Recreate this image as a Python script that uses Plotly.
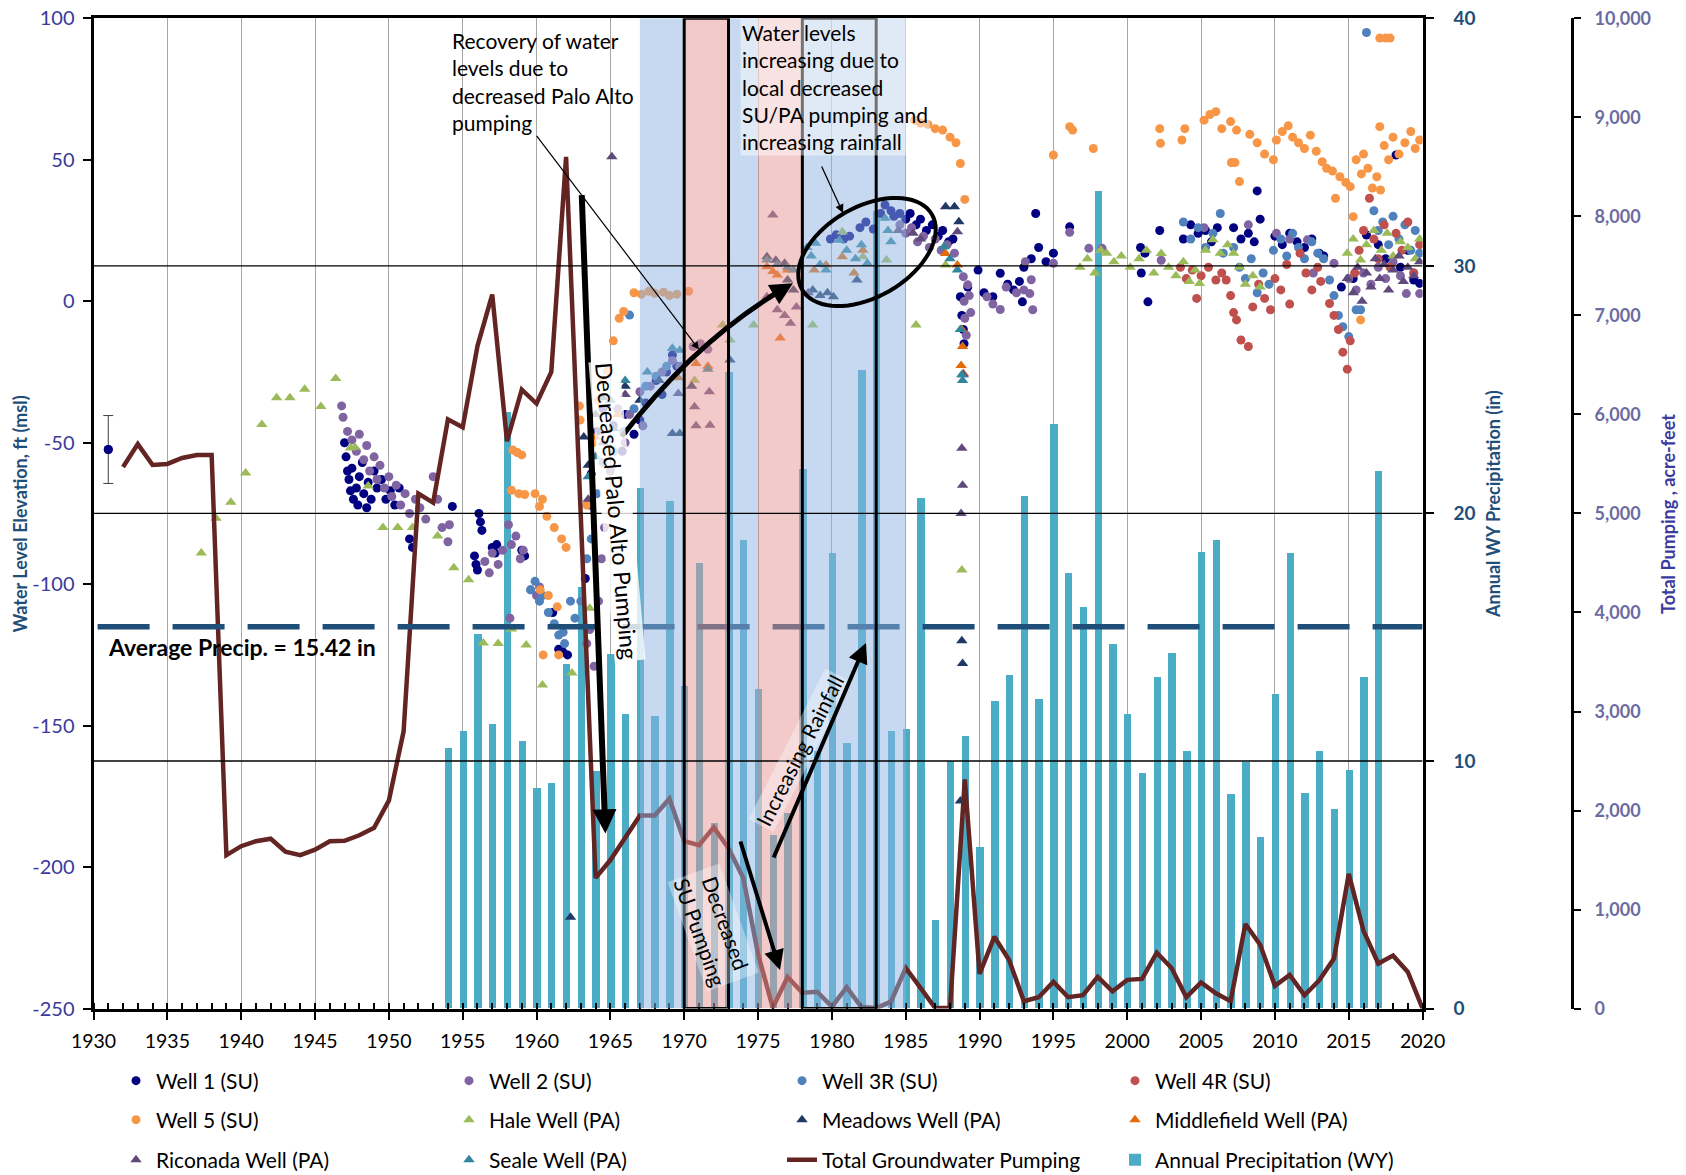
import numpy as np
import plotly.graph_objects as go

# ---------------- DATA ----------------
precip_years = list(range(1954, 2018))
precip_in = [10.5, 11.2, 15.1, 11.5, 24.1, 10.8, 8.9, 9.1, 13.9, 17.0,
             9.6, 14.3, 11.9, 21.0, 11.8, 20.5, 13.0, 18.0, 7.5, 25.7,
             18.9, 12.9, 7.0, 7.9, 21.8, 10.4, 18.4, 10.7, 25.8, 32.2,
             11.2, 11.3, 20.6, 3.55, 10.0, 11.0, 6.5, 12.4, 13.45, 20.7,
             12.5, 23.6, 17.6, 16.2, 33.0, 14.7, 11.9, 9.5, 13.4, 14.35,
             10.4, 18.45, 18.9, 8.66, 9.96, 6.9, 12.7, 18.4, 8.7, 10.4,
             8.06, 9.63, 13.4, 21.7]
AVG_PRECIP = 15.42

pump_years = list(range(1932, 2021))
pump_af = [5470, 5700, 5490, 5500, 5560, 5590, 5590, 1550, 1640, 1690,
           1715, 1585, 1550, 1605, 1690, 1695, 1750, 1825, 2100, 2800,
           5200, 5110, 5950, 5870, 6690, 7210, 5730, 6250, 6110, 6430,
           8600, 4950, 1320, 1500, 1730, 1950, 1950, 2120, 1690, 1650,
           1830, 1620, 1320, 550, 10, 320, 160, 170, 20, 215,
           15, 5, 70, 410, 210, 5, 5, 2315, 350, 725,
           490, 75, 115, 270, 115, 135, 320, 175, 290, 300,
           565, 410, 115, 265, 155, 75, 855, 645, 230, 340,
           135, 285, 505, 1360, 785, 455, 535, 370, 0]

w1_year = [1931.0, 1947.0, 1947.1, 1947.2, 1947.3, 1947.4, 1947.5, 1947.6, 1947.8, 1947.9, 1948.0, 1948.2, 1948.3,
           1948.5, 1948.6, 1948.8, 1949.0, 1949.2, 1949.5, 1949.8, 1950.1, 1950.4, 1950.7, 1951.4, 1951.6,
           1954.3, 1956.1, 1956.2, 1956.3, 1955.8, 1955.9, 1956.0, 1957.0, 1957.2, 1957.3, 1959.0, 1959.2,
           1961.1, 1961.5, 1961.8, 1962.1, 1963.3, 1963.6, 1963.7, 1964.1, 1964.5, 1965.2, 1965.8, 1966.6,
           1967.4, 1968.1, 1968.8, 1969.2, 1966.0, 1967.0, 1968.5, 1969.5, 1979.9, 1980.3, 1980.8, 1981.2,
           1981.9, 1982.3, 1982.8, 1983.3, 1983.6, 1984.0, 1984.2, 1984.6, 1985.0, 1985.3, 1985.7, 1986.0,
           1986.4, 1986.8, 1987.2, 1987.5, 1987.9, 1988.2, 1988.7, 1988.8, 1988.9, 1988.95, 1989.9, 1989.2,
           1990.3, 1990.9, 1991.4, 1991.9, 1992.3, 1992.7, 1992.9, 1993.0, 1993.5, 1994.0, 1994.5, 1995.0,
           1993.8, 1996.1, 2000.9, 2001.2, 2000.95, 2001.4, 2002.2, 2003.8, 2004.3, 2004.8, 2005.3, 2005.7,
           2006.1, 2007.2, 2007.7, 2008.2, 2008.6, 2008.8, 2009.0, 2010.0, 2010.5, 2011.0, 2011.5, 2012.0,
           2012.5, 2013.0, 2013.3, 2014.5, 2015.3, 2016.2, 2017.0, 2017.5, 2018.2, 2018.5, 2019.0, 2019.4, 2019.8]
w1_level = [-52.4, -50, -55, -60, -63, -67, -59, -70, -66, -72, -62, -57, -68,
            -73, -64, -70, -60, -66, -63, -70, -67, -72, -66, -84, -87,
            -72.5, -75, -78, -81, -90, -93, -95, -87, -89, -86, -88, -90,
            -110, -123, -124, -125, -98, -72, -61, -46, -38, -44, -53, -47,
            -36, -28, -25, -19, -40, -42, -33, -23, 22, 23.5, 22, 23,
            26, 28, 25.5, 31, 34, 32, 30, 31, 29, 31, 27, 29,
            25, 27, 23, 25, 21, 22, 1.6, -5, -10, -15, 11, 5,
            3, 1.6, 9.9, 6, 4, 7, -0.2, 12, 15, 19, 14, 17,
            31, 26.3, 19, 17, 10, -0.2, 25, 22, 27, 24, 25, 21,
            26, 26, 22, 24, 21, 39, 29, 23, 20, 24, 21, 19,
            22, 17, 16, 5, 8, 23.4, 20, 15, 51.7, 12, 18, 7.5, 6.3]
w1_err = 12

w2_year = [1946.8, 1946.9, 1947.2, 1947.5, 1947.8, 1948.0, 1948.3, 1948.5, 1948.7, 1949.0, 1949.2, 1949.4,
           1949.7, 1950.0, 1950.2, 1950.5, 1950.8, 1951.1, 1951.4, 1951.8, 1952.1, 1952.5, 1953.0, 1953.3,
           1953.6, 1954.0, 1954.1, 1956.5, 1956.8, 1957.0, 1957.4, 1957.7, 1958.1, 1958.3, 1958.6, 1958.9,
           1959.1, 1958.2, 1959.6, 1960.0, 1960.2, 1963.4, 1963.6, 1963.9, 1964.2, 1964.4, 1964.6, 1965.5,
           1966.3, 1967.0, 1967.7, 1968.5, 1969.2, 1969.7, 1970.6, 1971.1, 1971.6, 1965.0, 1966.0, 1967.2,
           1984.6, 1985.0, 1985.4, 1985.8, 1986.2, 1986.6, 1987.0, 1987.4, 1987.8, 1988.3, 1988.9, 1988.95,
           1989.0, 1989.1, 1989.2, 1989.3, 1989.4, 1990.5, 1990.9, 1991.4, 1991.8, 1992.5, 1993.0, 1993.4,
           1993.1, 1993.5, 1993.6, 1995.0, 1996.1, 1997.4, 1998.3, 2002.3, 2005.2, 2008.2, 2010.1, 2011.0,
           2012.2, 2012.6, 2014.0, 2015.0, 2015.5, 2016.0, 2016.5, 2017.0, 2017.5, 2018.0, 2018.5, 2018.9,
           2019.4, 2019.8]
w2_level = [-37, -41, -46, -49, -53, -47, -56, -51, -60, -55, -63, -58,
            -66, -62, -69, -65, -72, -68, -75, -70, -73, -77, -62, -70,
            -80, -85, -79, -92, -96, -89, -93, -88, -79, -86, -83, -91,
            -88, -112, -102, -104, -101, -121, -116, -129, -106, -91, -80, -38,
            -40, -32, -30, -25, -21, -23, -16, -15, -17, -60, -50, -44,
            27, 24, 26, 21, 23, 19, 22, 18, 20, 17, 8.7, 0,
            -6, -12, 5.8, 2, -4, 1.6, -1, -2.9, 5, 3, 4, 2.7,
            14, 7.6, -3, 13.4, 24.4, 18.7, 18.7, 14.5, 26, 27, 24, 22,
            21.7, 10, 13.4, 8, 4, 10, 6, 12, 8, 14, 9, 2.7,
            10, 2.7]

w3_year = [1959.6, 1959.9, 1960.2, 1960.4, 1960.8, 1961.2, 1961.5, 1961.8, 1961.9, 1962.3, 1962.6, 1963.0,
           1963.4, 1963.7, 1964.1, 1964.5, 1965.2, 1965.9, 1966.3, 1966.6, 1967.4, 1968.1, 1968.8,
           2003.8, 2004.3, 2004.8, 2005.3, 2005.8, 2006.3, 2006.5, 2007.2, 2007.6, 2008.0, 2008.4, 2008.8,
           2009.2, 2009.6, 2009.9, 2010.4, 2010.8, 2011.2, 2011.6, 2012.0, 2012.5, 2012.9, 2013.3, 2013.7,
           2014.0, 2014.3, 2014.6, 2015.0, 2015.5, 2015.8, 2016.2, 2016.7, 2017.0, 2017.3, 2017.7, 2018.0,
           2018.4, 2018.8, 2019.2, 2019.5, 2019.8]
w3_level = [-102, -99, -106, -104, -110, -114, -118, -117, -121, -106, -112, -106,
            -91, -84, -68, -57, -53, -46, -4.9, -38, -30, -26.5, -23,
            28, 22, 26, 19, 24, 31, 17, 19, 12, 8, 15, 3,
            10, 6, 18, 22, 16, 24, 19, 15, 21, 17, 15, 7.5,
            2, -5, -9, -12.5, -3, -3, 95, 32, 25, 28, 20, 30,
            22, 27, 18, 25, 17]

w4_year = [2003.6, 2004.0, 2004.4, 2004.7, 2005.0, 2005.5, 2006.0, 2006.4, 2006.7, 2007.0, 2007.2, 2007.4,
           2007.7, 2008.2, 2008.5, 2008.9, 2009.3, 2009.7, 2010.0, 2010.4, 2010.8, 2011.0, 2011.7, 2012.1,
           2012.5, 2012.9, 2013.1, 2013.7, 2014.0, 2014.3, 2014.6, 2014.9, 2015.1, 2015.4, 2015.7, 2016.0,
           2016.4, 2016.7, 2017.0, 2017.4, 2017.8, 2018.2, 2018.6, 2019.0, 2019.4, 2019.8]
w4_level = [12, 8, 11, 1, 9, 12, 7.5, 10, 7.5, 2, -4, -6.6,
            -13.7, -16, -2, 6, 1, -3, 8, 4, 13, -1, 17, 10,
            4, 12, 7, -0.8, -5, -10, -18, -24, -14, 10, 18, 25,
            36.4, 22, 15, 27, 12, 24, 18, 28, 10, 20]

w5_year = [1958.4, 1958.7, 1959.0, 1958.3, 1958.8, 1959.2, 1959.9, 1960.2, 1960.4, 1960.25, 1960.8, 1961.4,
           1960.45, 1961.5, 1960.7, 1961.2, 1961.7, 1962.0, 1962.9, 1962.95, 1963.4, 1963.8, 1964.2, 1964.5,
           1964.8, 1965.2, 1965.6, 1965.9, 1966.6, 1967.1, 1967.6, 1968.0, 1968.6, 1969.0, 1969.5, 1970.3,
           1985.6, 1986.0, 1986.5, 1987.0, 1987.5, 1988.0, 1988.4, 1988.7, 1989.0,
           1995.0, 1996.1, 1996.3, 1997.7, 2002.2, 2002.25, 2003.9, 2003.7, 2005.2, 2005.6, 2006.0, 2006.4,
           2007.0, 2007.4, 2007.05, 2007.3, 2007.6, 2008.3, 2008.8, 2009.3, 2009.9, 2010.1, 2010.5, 2010.9,
           2011.2, 2011.6, 2012.0, 2012.4, 2012.8, 2013.2, 2013.5, 2013.9, 2014.1, 2014.4, 2014.8, 2015.1,
           2015.3, 2015.8, 2015.5, 2015.85, 2016.0, 2016.3, 2016.6, 2016.9, 2017.1, 2017.15, 2017.1, 2017.5,
           2017.8, 2017.4, 2017.7, 2018.0, 2018.4, 2018.8, 2019.2, 2019.5, 2019.8]
w5_level = [-52.6, -53.5, -54.3, -66.8, -68, -68.3, -68, -72.5, -70, -102, -104, -108,
            -125, -125, -76, -80, -84, -87, -37, -42, -72, -50, -35, -28,
            -24.6, -14, -6, -3.6, 3, 2.5, 3.5, 2.8, 3.2, 2, 2.5, 3.5,
            64, 63, 62.5, 61, 60.5, 58, 56, 48.7, 36,
            51.7, 61.7, 60.5, 54, 61, 55.8, 61, 57, 64, 66, 67, 61,
            63.5, 60.5, 49, 49, 42.3, 59, 56, 52, 50, 57, 60, 62,
            58, 56, 54, 58.7, 53, 49.3, 47, 46, 36.4, 44, 42, 40.5,
            29.9, -6.6, 50, 45, 52, 47, 40, 44, 61.7, 39.3, 93, 93,
            93, 55, 50, 58, 52, 56, 60, 54, 57]

hale_year = [1937.3, 1938.3, 1939.3, 1940.3, 1941.4, 1942.4, 1943.3, 1944.3, 1945.4, 1946.4, 1947.4, 1947.7,
             1948.6, 1949.6, 1950.6, 1951.6, 1953.3, 1954.4, 1955.4, 1956.4, 1957.4, 1958.3, 1959.3, 1960.4,
             1962.4, 1963.6, 1970.7, 1972.6, 1973.1, 1974.7, 1978.7, 1980.7, 1982.1, 1983.7, 1985.7, 1987.7,
             1988.8, 1996.8, 1997.3, 1997.8, 1998.2, 1998.6, 1999.1, 1999.6, 2000.2, 2000.8, 2001.3, 2001.8,
             2002.3, 2002.8, 2003.3, 2003.8, 2004.2, 2004.6, 2004.9, 2005.3, 2005.8, 2006.3, 2006.8, 2007.2,
             2007.6, 2008.0, 2008.5, 2009.0, 2014.9, 2015.3, 2015.8, 2016.2, 2016.7, 2017.2, 2017.6, 2018.0,
             2018.5, 2019.0, 2019.5, 2019.8]
hale_level = [-89, -76.7, -71, -60.7, -43.6, -34.1, -34.1, -31.1, -37.2, -27.3, -51.9, -51.6,
              -65.3, -80, -80, -80, -83, -94.2, -98.4, -120.8, -121, -115.8, -121.5, -135.6,
              -131.4, -108.5, -27.9, -8.4, -13.7, -8.4, -8.4, 24.6, 15.7, 14.6, -8.4, 12.8,
              -95, 12, 15, 10, 18, 17, 14, 16, 12, 15, 18, 10,
              16.9, 12, 9, 14, 7, 11, 6.3, 18, 21.7, 17, 20, 17,
              12, 6, 9, 5, 17, 22, 14.6, 20, 25, 18, 24, 16,
              21, 19, 15, 22]

meadows_year = [1962.3, 1963.2, 1963.5, 1964.0, 1964.5, 1965.2, 1966.0, 1967.0, 1968.3, 1969.2, 1969.7, 1970.5,
                1973.1, 1975.6, 1976.2, 1976.8, 1977.0, 1977.4, 1978.7, 1979.2, 1979.7, 1980.1, 1981.7, 1987.7,
                1988.3, 1988.6, 1988.8, 1988.85, 1988.7]
meadows_level = [-217.7, -48, -58, -40, -34, -45, -30, -35, -28, -46.7, -46.7, -30,
                 -20.8, 15.7, 14.5, 13.4, 7.5, 4, 4, 2, 3, 1.6, 7.5, 33.4,
                 33.4, 28.1, -120, -128, -176.6]

middle_year = [1964.0, 1965.5, 1969.6, 1970.8, 1971.6, 1975.6, 1976.0, 1976.3, 1976.5, 1977.0, 1978.8, 1979.6,
               1980.7, 1981.5, 1982.1, 1987.7, 1988.5, 1988.8, 1988.85, 1988.75, 1988.9]
middle_level = [-48, -40, -27, -22, -23, 12.2, 10.5, 9.3, -13, 11, 11, 12.8,
                15.7, 10, 18, 16.9, 12.8, -10, -16, -22.7, -25.5]

ricon_year = [1963.5, 1964.5, 1965.1, 1966.0, 1969.6, 1970.7, 1970.8, 1971.7, 1971.75, 1975.6, 1976.0, 1976.3,
              1976.8, 1977.2, 1977.6, 1978.4, 1984.5, 1985.5, 1986.0, 1988.5, 1988.8, 1988.85, 1988.75, 1988.9,
              2014.9, 2015.3, 2015.6, 2015.9, 2016.2, 2016.5, 2016.8, 2017.1, 2017.4, 2017.7, 2018.0, 2018.4,
              2018.7, 2019.0, 2019.4, 2019.8]
ricon_level = [-70, -50, 51.1, -33, -32.6, -37.3, -44, -32, -43.8, 1.6, 30.5, -3,
               -5, -7.8, -2, 3, 25, 24, 22, 24.6, -52, -65, -75, -26,
               8, 3, 12, 0, 10, 5, 15, 8, 13, 4, 11, 16,
               7, 12, 9, 14]

seale_year = [1963.5, 1964.0, 1965.0, 1966.0, 1967.5, 1969.2, 1969.7, 1971.6, 1975.6, 1976.3, 1977.0, 1977.4,
              1978.3, 1978.6, 1978.9, 1979.2, 1979.6, 1980.5, 1981.0, 1981.6, 1982.0, 1982.4, 1983.6, 1983.8,
              1984.0, 1987.6, 1988.0, 1988.5, 1988.7, 1988.8, 1988.85]
seale_level = [-62, -55, -35, -28, -25, -16.6, -17.3, -24, 14.6, 13, 12, 11,
               19, 16, 20.5, 13, 11, 21.6, 18, 15, 20, 13.4, 29.3, 25,
               21, 19.3, 15, 11, -10, -26, -28]

level_ticks = list(range(-250, 101, 50))

# ---------------- GEOMETRY / HELPERS ----------------
W, H = 1686, 1175
PL, PR, PT, PB = 93.5, 1422.6, 18.3, 1008.6
XMIN, XMAX = 1930, 2020
LMIN, LMAX = -250, 100
PRMAX = 40
QMAX = 10000
FONT = "Lato"


def yr(px):
    return XMIN + (px - PL) / (PR - PL) * (XMAX - XMIN)


def lv(py):
    return LMAX - (py - PT) / (PB - PT) * (LMAX - LMIN)


def pxp(px):
    return px / W


def pyp(py):
    return 1 - py / H


fig = go.Figure()

fig.add_trace(go.Bar(x=precip_years, y=precip_in, name="Annual Precipitation (WY)",
                     marker=dict(color="#4bacc6", line=dict(width=0)), width=0.5,
                     xaxis="x", yaxis="y", legend="legend3", legendrank=4))

wells = [
    ("Well 1 (SU)", w1_year, w1_level, "circle", "#000080", "legend", 1),
    ("Well 2 (SU)", w2_year, w2_level, "circle", "#8064a2", "legend", 2),
    ("Well 3R (SU)", w3_year, w3_level, "circle", "#4f81bd", "legend", 3),
    ("Well 4R (SU)", w4_year, w4_level, "circle", "#c0504d", "legend", 4),
    ("Well 5 (SU)", w5_year, w5_level, "circle", "#f79646", "legend2", 1),
    ("Hale Well (PA)", hale_year, hale_level, "triangle-up", "#9bbb59", "legend2", 2),
    ("Meadows Well (PA)", meadows_year, meadows_level, "triangle-up", "#1f3864", "legend2", 3),
    ("Middlefield Well (PA)", middle_year, middle_level, "triangle-up", "#e36c09", "legend2", 4),
    ("Riconada Well (PA)", ricon_year, ricon_level, "triangle-up", "#604a7b", "legend3", 1),
    ("Seale Well (PA)", seale_year, seale_level, "triangle-up", "#31859c", "legend3", 2),
]
for name, xs, ys, sym, col, leg, rank in wells:
    fig.add_trace(go.Scatter(x=xs, y=ys, mode="markers", name=name,
                             marker=dict(symbol=sym, color=col, size=9 if sym == "circle" else 10,
                                         line=dict(width=0)),
                             xaxis="x", yaxis="y2", legend=leg, legendrank=rank))

fig.add_trace(go.Scatter(x=w1_year[:1], y=w1_level[:1], mode="markers", showlegend=False,
                         marker=dict(color="#000080", size=9),
                         error_y=dict(type="data", array=[w1_err], color="#404040", thickness=1, width=5),
                         xaxis="x", yaxis="y2"))

fig.add_trace(go.Scatter(x=pump_years, y=pump_af, mode="lines", name="Total Groundwater Pumping",
                         line=dict(color="#632523", width=4.5), xaxis="x", yaxis="y3",
                         legend="legend3", legendrank=3))

# ---------------- SHAPES ----------------
shapes = []
shapes.append(dict(type="line", xref="x", yref="y", x0=yr(97.6), x1=XMAX, y0=AVG_PRECIP, y1=AVG_PRECIP,
                   line=dict(color="#1f4e79", width=5.5, dash="52px,23px"), layer="above"))
blue = "rgba(141,180,226,0.5)"
pink = "rgba(229,149,149,0.5)"
for x0, x1, c in [(1967, 1970, blue), (1970, 1973, pink), (1973, 1975, blue), (1975, 1978, pink), (1978, 1985, blue)]:
    shapes.append(dict(type="rect", xref="x", yref="y", x0=x0, x1=x1, y0=0, y1=PRMAX,
                       fillcolor=c, line=dict(width=0), layer="above"))
for g in (10, 20, 30):
    shapes.append(dict(type="line", xref="x", yref="y", x0=XMIN, x1=XMAX, y0=g, y1=g,
                       line=dict(color="black", width=1.3), layer="above"))
for x0, x1 in [(1970, 1973), (1978, 1983)]:
    shapes.append(dict(type="rect", xref="x", yref="y", x0=x0, x1=x1, y0=0, y1=PRMAX,
                       fillcolor="rgba(0,0,0,0)", line=dict(color="black", width=3), layer="above"))

cx, cy, ea, eb, th = 867, 252, 75, 45, np.deg2rad(30)
t = np.linspace(0, 2 * np.pi, 73)
ex = cx + ea * np.cos(t) * np.cos(th) - eb * np.sin(t) * np.sin(th)
ey = cy - (ea * np.cos(t) * np.sin(th) + eb * np.sin(t) * np.cos(th))
path = "M " + " L ".join(f"{yr(a):.4f},{lv(b):.4f}" for a, b in zip(ex, ey)) + " Z"
shapes.append(dict(type="path", xref="x", yref="y2", path=path,
                   line=dict(color="black", width=4), fillcolor="rgba(0,0,0,0)", layer="above"))

S, C, E = (621.7, 436.7), (696.3, 339.7), (793, 283.3)
shapes.append(dict(type="path", xref="x", yref="y2",
                   path=f"M {yr(S[0])},{lv(S[1])} Q {yr(C[0])},{lv(C[1])} {yr(E[0] - 8)},{lv(E[1] + 4.6)}",
                   line=dict(color="black", width=5), fillcolor="rgba(0,0,0,0)", layer="above"))

# ---------------- ANNOTATIONS ----------------
ann = []


def arrow(tail, head, width, size=1.0, head_style=2):
    ann.append(dict(xref="x", yref="y2", axref="x", ayref="y2",
                    x=yr(head[0]), y=lv(head[1]), ax=yr(tail[0]), ay=lv(tail[1]),
                    text="", showarrow=True, arrowhead=head_style, arrowwidth=width,
                    arrowsize=size, arrowcolor="black", standoff=0, startstandoff=0))


def text(px, py, s, size=20, angle=0, xanchor="center", yanchor="middle", align="center",
         bold=False, bg="rgba(0,0,0,0)", color="black"):
    ann.append(dict(xref="paper", yref="paper", x=pxp(px), y=pyp(py), text=s, showarrow=False,
                    textangle=angle, xanchor=xanchor, yanchor=yanchor, align=align, bgcolor=bg,
                    font=dict(family=FONT, size=size, color=color, weight="bold" if bold else "normal")))


text(450, 26, "Recovery of water<br>levels due to<br>decreased Palo Alto<br>pumping",
     size=21, xanchor="left", yanchor="top", align="left")
arrow((535.5, 134.4), (699, 349.5), 1.2, 1.3)

text(740, 18, "Water levels<br>increasing due to<br>local decreased<br>SU/PA pumping and<br>increasing rainfall",
     size=21, xanchor="left", yanchor="top", align="left", bg="rgba(255,255,255,0.45)")
arrow((821, 165), (843, 213), 1.3, 1.3)

arrow((581.7, 193.6), (605.4, 833.4), 6, 0.8)
text(617, 511, "Decreased Palo Alto Pumping", size=23, angle=85, bg="rgba(255,255,255,0.8)")

dirx, diry = (E[0] - C[0]), (E[1] - C[1])
nrm = np.hypot(dirx, diry)
arrow((E[0] - 30 * dirx / nrm, E[1] - 30 * diry / nrm), E, 5, 0.9)

text(713, 927, "Decreased<br>SU Pumping", size=21, angle=70, bg="rgba(255,255,255,0.35)")
arrow((740, 840), (780, 970), 4, 1.0)

text(799, 750, "Increasing Rainfall", size=21, angle=-63, bg="rgba(255,255,255,0.35)")
arrow((773, 859), (866, 643), 4, 1.0)

text(106, 647, f"Average Precip. = {AVG_PRECIP:.2f} in", size=23, xanchor="left", bold=True)

text(19.5, 514, "Water Level Elevation, ft (msl)", size=18, angle=-90, bold=True, color="#1f4e79")
text(1493, 504, "Annual WY Precipitation (in)", size=18, angle=-90, bold=True, color="#1f4e79")
text(1668, 514, "Total Pumping , acre-feet", size=18, angle=-90, bold=True, color="#3b3b9e")

# ---------------- LAYOUT ----------------
dom_x = [PL / W, PR / W]
dom_y = [1 - PB / H, 1 - PT / H]
legfont = dict(family=FONT, size=21, color="black")


def leg(py):
    return dict(orientation="h", x=(156 - 40) / W, xanchor="left", y=pyp(py), yanchor="middle",
                entrywidth=288, entrywidthmode="pixels", font=legfont, bgcolor="rgba(0,0,0,0)",
                borderwidth=0, tracegroupgap=0)


fig.update_layout(
    width=W, height=H, autosize=False,
    margin=dict(l=0, r=0, t=0, b=0, pad=0, autoexpand=False),
    paper_bgcolor="white", plot_bgcolor="white",
    font=dict(family=FONT, color="black"),
    bargap=0,
    xaxis=dict(domain=dom_x, range=[XMIN, XMAX], tick0=1930, dtick=5, showgrid=True,
               gridcolor="#a6a6a6", gridwidth=1, zeroline=False, automargin=False,
               showline=True, linecolor="black", linewidth=3, mirror=True,
               ticks="outside", ticklen=8, tickwidth=2, tickcolor="black",
               minor=dict(dtick=1, ticks="inside", ticklen=6, tickwidth=1.5, tickcolor="black", showgrid=False),
               tickfont=dict(family=FONT, size=19.5, color="black"), ticklabelstandoff=5),
    yaxis=dict(domain=dom_y, range=[0, PRMAX], dtick=10, side="right", anchor="x", automargin=False,
               showgrid=False, zeroline=False, showline=True, linecolor="black", linewidth=3,
               ticks="outside", ticklen=8, tickwidth=2, tickcolor="black",
               tickfont=dict(family=FONT, size=19, color="#1f4e79", weight="bold"), ticklabelstandoff=16),
    yaxis2=dict(range=[LMIN, LMAX], tickmode="array", tickvals=level_ticks,
                ticktext=[str(v) for v in level_ticks], side="left", anchor="x", overlaying="y",
                automargin=False,
                showgrid=False, zeroline=False, showline=True, linecolor="black", linewidth=3,
                ticks="outside", ticklen=8, tickwidth=2, tickcolor="black",
                tickfont=dict(family=FONT, size=20, color="#3a3a9c"), ticklabelstandoff=4),
    yaxis3=dict(range=[0, QMAX], dtick=1000, tickformat=",", side="right", anchor="free",
                position=1572 / W, overlaying="y", automargin=False,
                showgrid=False, zeroline=False, showline=True, linecolor="black", linewidth=3,
                ticks="outside", ticklen=7, tickwidth=2, tickcolor="black",
                tickfont=dict(family=FONT, size=18, color="#6b6ba3", weight="bold"), ticklabelstandoff=10),
    legend=leg(1081), legend2=leg(1120), legend3=leg(1160),
    shapes=shapes, annotations=ann,
)

fig.write_html("out.html")
